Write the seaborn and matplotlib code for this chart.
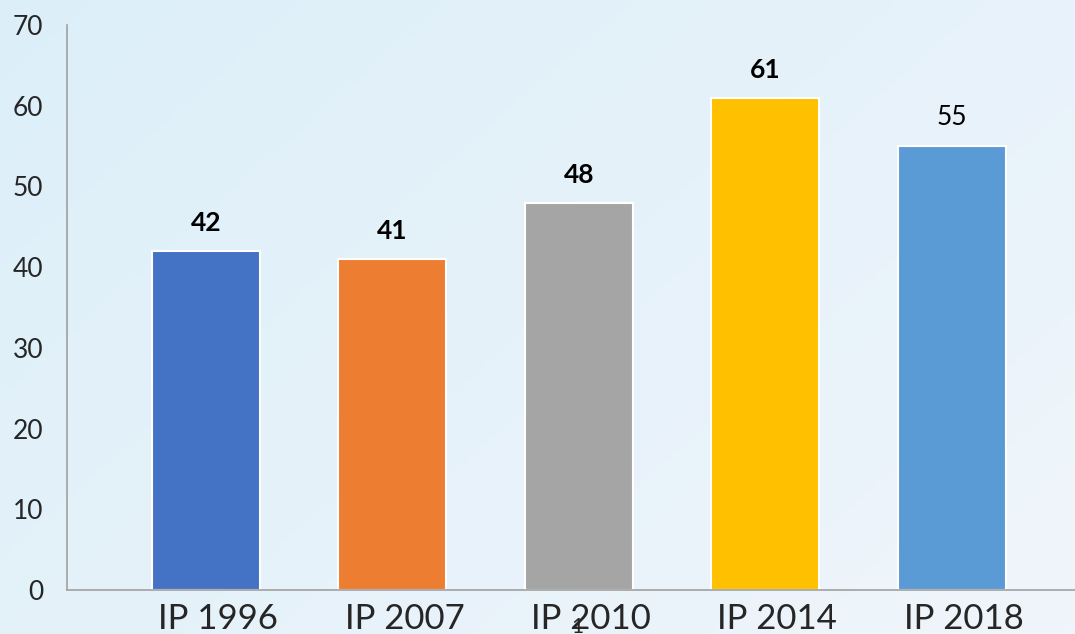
import numpy as np
import pandas as pd
import seaborn as sns
import matplotlib.pyplot as plt
import matplotlib.transforms as mtransforms

# chart data
categories = ["IP 1996", "IP 2007", "IP 2010", "IP 2014", "IP 2018"]
values = [42, 41, 48, 61, 55]
bold_labels = [True, True, True, True, False]
colors = ["#4472C4", "#ED7D31", "#A5A5A5", "#FFC000", "#5B9BD5"]
yticks = [0, 10, 20, 30, 40, 50, 60, 70]

df = pd.DataFrame({"cat": categories, "val": values})

sns.set_style("white")
plt.rcParams["font.family"] = ["Lato", "DejaVu Sans"]

fig = plt.figure(figsize=(10.75, 6.34), dpi=100)

# soft blue background gradient
bg = fig.add_axes([0, 0, 1, 1], zorder=-10)
gx, gy = np.meshgrid(np.linspace(0, 1, 200), np.linspace(0, 1, 200))
grad = 0.6 * gx + 0.4 * gy
bg.imshow(grad, cmap=sns.blend_palette(["#dceff9", "#f0f5fb"], as_cmap=True),
          aspect="auto", extent=[0, 1, 0, 1], origin="upper")
bg.axis("off")

ax = fig.add_axes([0.0623, 0.0694, 0.9377, 0.8912])
ax.patch.set_alpha(0)

sns.barplot(data=df, x="cat", y="val", hue="cat", palette=colors, legend=False,
            width=0.58, edgecolor="white", linewidth=1.5, saturation=1, ax=ax)

for i, (v, b) in enumerate(zip(values, bold_labels)):
    ax.annotate(str(v), (i, v), xytext=(0, 11.5), textcoords="offset points",
                ha="center", va="bottom", fontsize=19,
                fontweight="bold" if b else "normal", color="black")

ax.set_xlim(-0.745, 4.66)
ax.set_ylim(0, 70)
ax.set_yticks(yticks)
ax.set_xlabel("")
ax.set_ylabel("")

for s in ["top", "right"]:
    ax.spines[s].set_visible(False)
for s in ["left", "bottom"]:
    ax.spines[s].set_color("#a0a0a0")
    ax.spines[s].set_linewidth(1.2)

ax.tick_params(axis="y", length=6, width=1.2, color="#a0a0a0", labelsize=19, pad=11)
ax.tick_params(axis="x", length=0, labelsize=25, pad=9)
ax.set_xticks([-0.745], minor=True)
ax.tick_params(axis="x", which="minor", length=6, width=1.2, color="#a0a0a0")

# category labels sit a little right of the bar centres in the source
shift = mtransforms.ScaledTranslation(12 / 100, 0, fig.dpi_scale_trans)
for lab in ax.get_xticklabels():
    lab.set_transform(lab.get_transform() + shift)

# small stray "1" under the middle label, as in the source slide
fig.text(0.537, -0.004, "1", fontsize=15, ha="center", va="bottom")

fig.savefig("out.png", dpi=100)
